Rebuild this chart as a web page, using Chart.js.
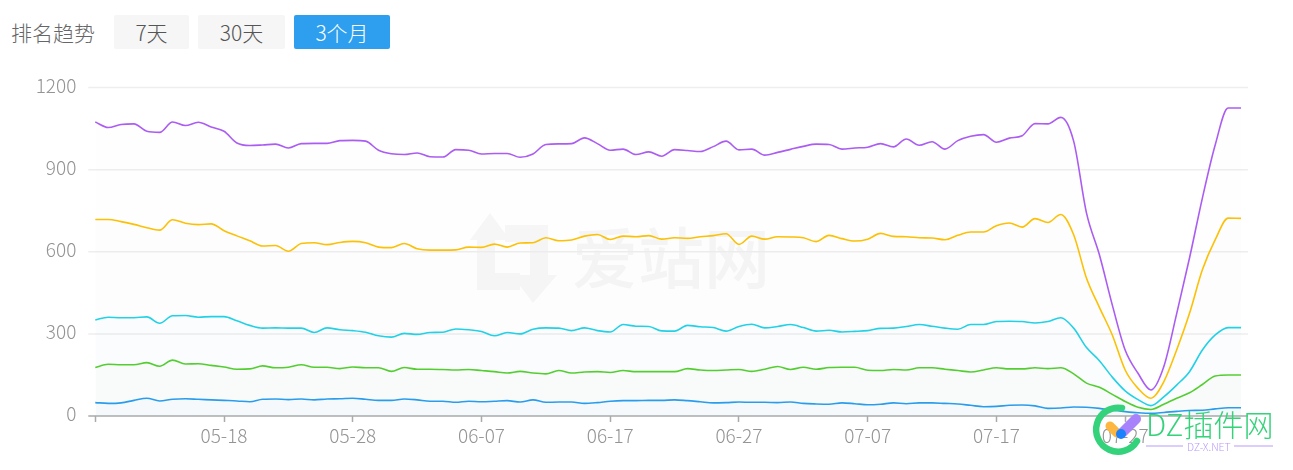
<!DOCTYPE html>
<html lang="zh">
<head>
<meta charset="utf-8">
<title>排名趋势</title>
<script src="https://cdn.jsdelivr.net/npm/chart.js@4/dist/chart.umd.min.js"></script>
<style>
  html, body { margin: 0; padding: 0; background: #fff; }
  body { width: 1293px; height: 470px; position: relative; overflow: hidden; font-family: "Noto Sans CJK SC", sans-serif; font-weight: 300; }
  .title { position: absolute; left: 11px; top: 17px; font-size: 21px; line-height: 30px; color: #666; }
  .btn { position: absolute; top: 15px; height: 34px; line-height: 35px; text-align: center; font-size: 21px; color: #555; background: #f6f6f6; border-radius: 2px; }
  .btn.on { background: #2d9fee; color: #fff; }
  #mark, #brand { position: absolute; left: 0; top: 0; }
  #trend { position: absolute; left: 0; top: 0; }
</style>
</head>
<body>
<div class="title">排名趋势</div>
<div class="btn" style="left:114px;width:75px">7天</div>
<div class="btn" style="left:198px;width:87px">30天</div>
<div class="btn on" style="left:294px;width:96px">3个月</div>

<!-- background watermark -->
<svg id="mark" width="1293" height="470">
  <polygon fill="#f7f7f7" points="490,213 470,240 477,240 477,290 520,290 520,273 495,273 495,240 510,240"/>
  <polygon fill="#f7f7f7" points="505,225 548,225 548,275 557,275 533,303 512,275 530,275 530,242 505,242"/>
  <text x="572" y="283" font-size="66" font-weight="500" fill="#f6f6f6" font-family="Noto Sans CJK SC">爱站网</text>
</svg>

<canvas id="trend" width="1293" height="470"></canvas>

<!-- site stamp, lower right -->
<svg id="brand" width="1293" height="470">
  <path d="M1122 408 A22 22 0 1 0 1137 441" fill="none" stroke="#34d27a" stroke-width="6.5" stroke-linecap="round"/>
  <line x1="1110" y1="426" x2="1117" y2="433" stroke="#fdb63f" stroke-width="9" stroke-linecap="round"/>
  <line x1="1123" y1="432" x2="1136" y2="419" stroke="#a882fb" stroke-width="10" stroke-linecap="round"/>
  <circle cx="1121" cy="434" r="5" fill="#1a80fb"/>
  <text x="1146" y="436" font-size="30" font-weight="300" fill="#36d27a" font-family="Noto Sans CJK SC">DZ插件网</text>
  <line x1="1146" y1="446" x2="1183" y2="446" stroke="#b79cf9"/>
  <text x="1187" y="451" font-size="10.5" font-weight="300" fill="#b79cf9" font-family="Noto Sans CJK SC">DZ-X.NET</text>
  <line x1="1234" y1="446" x2="1273" y2="446" stroke="#b79cf9"/>
</svg>

<script>
// ---- data ----
const dates = [
  '05-08','05-09','05-10','05-11','05-12','05-13','05-14','05-15','05-16','05-17',
  '05-18','05-19','05-20','05-21','05-22','05-23','05-24','05-25','05-26','05-27',
  '05-28','05-29','05-30','05-31','06-01','06-02','06-03','06-04','06-05','06-06',
  '06-07','06-08','06-09','06-10','06-11','06-12','06-13','06-14','06-15','06-16',
  '06-17','06-18','06-19','06-20','06-21','06-22','06-23','06-24','06-25','06-26',
  '06-27','06-28','06-29','06-30','07-01','07-02','07-03','07-04','07-05','07-06',
  '07-07','07-08','07-09','07-10','07-11','07-12','07-13','07-14','07-15','07-16',
  '07-17','07-18','07-19','07-20','07-21','07-22','07-23','07-24','07-25','07-26',
  '07-27','07-28','07-29','07-30','07-31','08-01','08-02','08-03','08-04','08-05'
];

const purple = [
  1074,1054,1065,1067,1040,1036,1074,1061,1073,1056,
  1040,997,988,990,993,979,995,996,996,1006,
  1007,1004,971,958,955,961,947,946,973,971,
  957,959,959,945,957,992,994,995,1016,995,
  971,975,955,965,949,973,970,966,984,1004,
  972,975,953,963,974,985,993,992,975,979,
  982,995,983,1012,989,1002,975,1006,1022,1028,
  1000,1015,1024,1068,1067,1091,1004,741,589,406,
  241,156,95,180,373,577,796,991,1125,1125
];
const yellow = [
  718,718,710,700,688,679,717,704,699,702,
  677,658,640,621,623,602,630,633,626,634,
  638,633,617,615,630,611,606,606,607,617,
  616,628,617,632,633,651,640,643,657,663,
  645,657,655,659,646,651,649,655,659,666,
  627,657,646,655,654,651,637,660,648,639,
  646,667,656,655,651,650,644,660,672,672,
  695,705,690,721,707,736,662,503,397,296,
  168,101,65,125,241,375,534,644,723,722
];
const cyan = [
  351,361,359,359,362,339,366,367,361,363,
  363,348,331,321,322,321,321,305,322,315,
  312,306,293,288,302,298,305,306,318,315,
  309,293,305,300,317,322,321,312,322,312,
  307,334,328,327,311,310,331,326,323,310,
  327,335,322,327,334,323,310,313,307,309,
  312,320,321,327,334,328,321,317,334,334,
  345,346,345,340,345,359,321,250,202,142,
  92,60,38,70,113,162,241,296,323,323
];
const green = [
  177,189,187,187,195,182,204,190,191,185,
  179,171,172,183,176,178,187,178,178,173,
  179,176,176,163,177,171,171,170,168,170,
  166,162,157,163,157,154,166,157,161,162,
  159,166,162,162,162,162,173,168,166,168,
  170,163,171,181,170,178,171,177,178,178,
  167,166,170,168,176,176,171,166,161,168,
  176,172,172,176,173,176,154,120,105,79,
  53,32,24,43,65,85,115,146,150,150
];
const blue = [
  49,46,48,57,65,55,61,63,61,59,
  57,55,52,61,62,60,62,59,62,63,
  65,61,57,57,62,59,54,54,50,54,
  52,54,56,51,59,50,51,51,46,49,
  54,56,56,57,57,59,56,52,48,49,
  51,50,50,49,51,46,44,43,48,45,
  41,43,48,45,48,48,46,44,39,34,
  35,39,40,37,28,29,33,32,28,21,
  16,12,10,13,17,20,21,26,30,30
];
const yTicks = [0, 300, 600, 900, 1200];

// ---- colours ----
const PURPLE = '#ab5cf2';
const YELLOW = '#fdc106';
const CYAN   = '#22d3e8';
const GREEN  = '#54d02e';
const BLUE   = '#2a9df0';
const GRID   = '#eeeeee';
const AXIS   = '#aaaaaa';
const LABEL  = '#949494';

const serie = (data, color, fillColor) => ({
  data,
  borderColor: color,
  backgroundColor: fillColor,
  borderWidth: 1.6,
  pointRadius: 0,
  cubicInterpolationMode: 'monotone',
  fill: 'origin'
});

// horizontal lines stick out a few px past the plot on both sides
const wideGrid = {
  id: 'wideGrid',
  beforeDatasetsDraw(chart) {
    const { ctx, chartArea, scales } = chart;
    ctx.save();
    ctx.lineWidth = 1.5;
    scales.y.ticks.forEach(t => {
      const y = scales.y.getPixelForValue(t.value);
      ctx.beginPath();
      ctx.strokeStyle = t.value === 0 ? AXIS : GRID;
      ctx.moveTo(chartArea.left - 7, y);
      ctx.lineTo(chartArea.right + 7, y);
      ctx.stroke();
    });
    ctx.restore();
  }
};

new Chart(document.getElementById('trend'), {
  type: 'line',
  data: {
    labels: dates,
    datasets: [
      serie(purple, PURPLE, 'rgba(128, 128, 128, 0.008)'),
      serie(yellow, YELLOW, 'rgba(128, 128, 128, 0.012)'),
      serie(cyan, CYAN, 'rgba(34, 211, 232, 0.012)'),
      serie(green, GREEN, 'rgba(84, 208, 46, 0.012)'),
      serie(blue, BLUE, 'rgba(42, 157, 240, 0.02)')
    ]
  },
  plugins: [wideGrid],
  options: {
    responsive: false,
    animation: false,
    layout: { padding: { top: 87.5, right: 52, bottom: 0, left: 0 } },
    plugins: { legend: { display: false }, tooltip: { enabled: false } },
    scales: {
      x: {
        offset: false,
        afterFit: s => { s.height = 54; },
        afterBuildTicks: s => { s.ticks = s.ticks.filter(t => t.value % 10 === 0); },
        border: { display: false },
        grid: { drawOnChartArea: false, tickLength: 6, tickColor: AXIS, tickWidth: 1.5 },
        ticks: {
          autoSkip: false,
          maxRotation: 0,
          padding: 2,
          color: LABEL,
          font: { family: '"Noto Sans CJK SC"', size: 19, weight: 300 },
          // no label under the first tick
          callback(value) { return value === 0 ? '' : dates[value]; }
        }
      },
      y: {
        min: 0,
        max: 1200,
        afterFit: s => { s.width = 95.3; },
        afterBuildTicks: s => { s.ticks = yTicks.map(value => ({ value })); },
        border: { display: false },
        grid: { display: false, drawTicks: false },
        ticks: {
          padding: 19,
          labelOffset: -2,
          color: LABEL,
          font: { family: '"Noto Sans CJK SC"', size: 19, weight: 300 },
          callback: value => String(value)
        }
      }
    }
  }
});
</script>
</body>
</html>
